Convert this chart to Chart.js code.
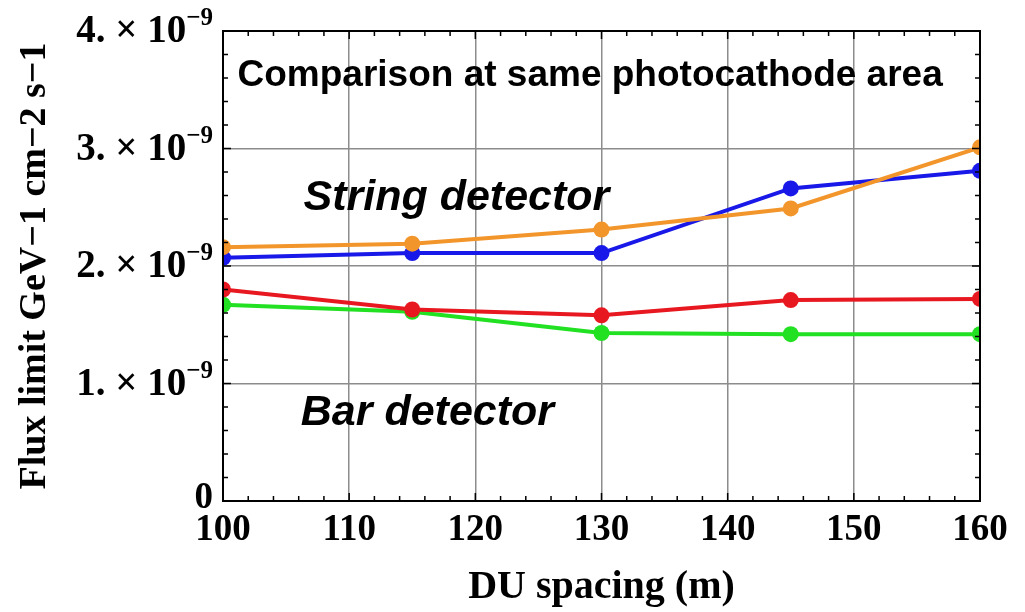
<!DOCTYPE html>
<html lang="en">
<head>
    <meta charset="UTF-8">
    <title>Flux limit vs DU spacing</title>
    <script src="https://cdn.jsdelivr.net/npm/chart.js"></script>
    <style>
        body { margin: 0; background: #fff; }
    </style>
</head>
<body>
    <canvas id="myChart" width="1025" height="612"></canvas>
    <script>
        // DU spacing (m)
        const spacing = [100, 115, 130, 145, 160];

        // flux limit, GeV-1 cm-2 s-1
        const stringOrange = [2.16e-9, 2.19e-9, 2.31e-9, 2.49e-9, 3.01e-9];
        const stringBlue   = [2.07e-9, 2.11e-9, 2.11e-9, 2.66e-9, 2.81e-9];
        const barRed       = [1.80e-9, 1.63e-9, 1.58e-9, 1.71e-9, 1.72e-9];
        const barGreen     = [1.67e-9, 1.61e-9, 1.43e-9, 1.42e-9, 1.42e-9];

        // axis ticks
        const xTicks = [100, 110, 120, 130, 140, 150, 160];
        const yTicks = [0, 1e-9, 2e-9, 3e-9, 4e-9];
        const yTickLabels = ['0', '1.', '2.', '3.', '4.'];

        const serif = '"Liberation Serif", "DejaVu Serif", serif';
        const sans = '"Liberation Sans", Arial, sans-serif';

        // text placed in data coordinates
        const notes = [
            { text: 'Comparison at same photocathode area', x: 129.1, y: 3.62e-9, font: 'bold 37px ' + sans },
            { text: 'String detector', x: 118.5, y: 2.58e-9, font: 'italic bold 43px ' + sans },
            { text: 'Bar detector', x: 116.2, y: 0.75e-9, font: 'italic bold 43px ' + sans }
        ];

        function series(data, color) {
            return {
                data: data,
                borderColor: color,
                backgroundColor: color,
                borderWidth: 4,
                pointRadius: 8,
                pointBorderWidth: 0,
                pointHoverRadius: 8,
                tension: 0
            };
        }

        // frame, inward ticks, tick labels, axis titles and notes
        const decorations = {
            id: 'decorations',
            afterDraw(chart) {
                const ctx = chart.ctx;
                const a = chart.chartArea;
                const xs = chart.scales.x, ys = chart.scales.y;
                ctx.save();

                // inward ticks on all four sides
                ctx.strokeStyle = '#000';
                ctx.lineWidth = 1.5;
                ctx.beginPath();
                for (let v = 100; v <= 160; v += 2) {
                    const px = xs.getPixelForValue(v);
                    const len = (v % 10 === 0) ? 8 : 5;
                    ctx.moveTo(px, a.bottom); ctx.lineTo(px, a.bottom - len);
                    ctx.moveTo(px, a.top); ctx.lineTo(px, a.top + len);
                }
                for (let i = 0; i <= 20; i++) {
                    const py = ys.getPixelForValue(i * 0.2e-9);
                    const len = (i % 5 === 0) ? 8 : 5;
                    ctx.moveTo(a.left, py); ctx.lineTo(a.left + len, py);
                    ctx.moveTo(a.right, py); ctx.lineTo(a.right - len, py);
                }
                ctx.stroke();

                // frame
                ctx.lineWidth = 2;
                ctx.strokeRect(a.left, a.top, a.right - a.left, a.bottom - a.top);

                // x tick labels
                ctx.fillStyle = '#000';
                ctx.font = 'bold 37px ' + serif;
                ctx.textAlign = 'center';
                ctx.textBaseline = 'middle';
                xTicks.forEach(v => {
                    ctx.fillText(String(v), xs.getPixelForValue(v), a.bottom + 29);
                });

                // y tick labels: mantissa x 10 with superscript exponent
                yTicks.forEach((v, i) => {
                    const py = ys.getPixelForValue(v);
                    const right = a.left - 10;
                    ctx.textBaseline = 'middle';
                    if (v === 0) {
                        ctx.font = 'bold 37px ' + serif;
                        ctx.textAlign = 'right';
                        ctx.fillText('0', right, py - 3);
                        return;
                    }
                    ctx.font = 'bold 25px ' + serif;
                    const sup = '\u22129';
                    const supW = ctx.measureText(sup).width;
                    ctx.textAlign = 'right';
                    ctx.fillText(sup, right, py - 12);
                    ctx.font = 'bold 39px ' + serif;
                    ctx.fillText(yTickLabels[i] + ' \u00d7 10', right - supW, py + 1);
                });

                // axis titles
                ctx.font = 'bold 40px ' + serif;
                ctx.textAlign = 'center';
                ctx.fillText('DU spacing (m)', (a.left + a.right) / 2, 588);

                ctx.save();
                ctx.translate(35, (a.top + a.bottom) / 2);
                ctx.rotate(-Math.PI / 2);
                ctx.font = 'bold 38px ' + serif;
                ctx.fillText('Flux limit GeV\u22121 cm\u22122 s\u22121', 0, 0, 462);
                ctx.restore();

                // notes
                notes.forEach(n => {
                    ctx.font = n.font;
                    ctx.textAlign = 'center';
                    ctx.fillText(n.text, xs.getPixelForValue(n.x), ys.getPixelForValue(n.y));
                });

                ctx.restore();
            }
        };

        const ctx = document.getElementById('myChart').getContext('2d');

        new Chart(ctx, {
            type: 'line',
            data: {
                labels: spacing,
                datasets: [
                    series(barRed, '#e81820'),
                    series(barGreen, '#22e022'),
                    series(stringOrange, '#f2962c'),
                    series(stringBlue, '#1818e8')
                ]
            },
            options: {
                responsive: false,
                animation: false,
                devicePixelRatio: 1,
                layout: { padding: { left: 223, right: 45, top: 31, bottom: 111 } },
                plugins: {
                    legend: { display: false },
                    tooltip: { enabled: false }
                },
                scales: {
                    x: {
                        type: 'linear',
                        min: 100,
                        max: 160,
                        ticks: { display: false, stepSize: 10 },
                        grid: { color: '#8c8c8c', lineWidth: 1.5, drawTicks: false },
                        border: { display: false }
                    },
                    y: {
                        min: 0,
                        max: 4e-9,
                        ticks: { display: false, stepSize: 1e-9 },
                        grid: { color: '#8c8c8c', lineWidth: 1.5, drawTicks: false },
                        border: { display: false }
                    }
                }
            },
            plugins: [decorations]
        });
    </script>
</body>
</html>
